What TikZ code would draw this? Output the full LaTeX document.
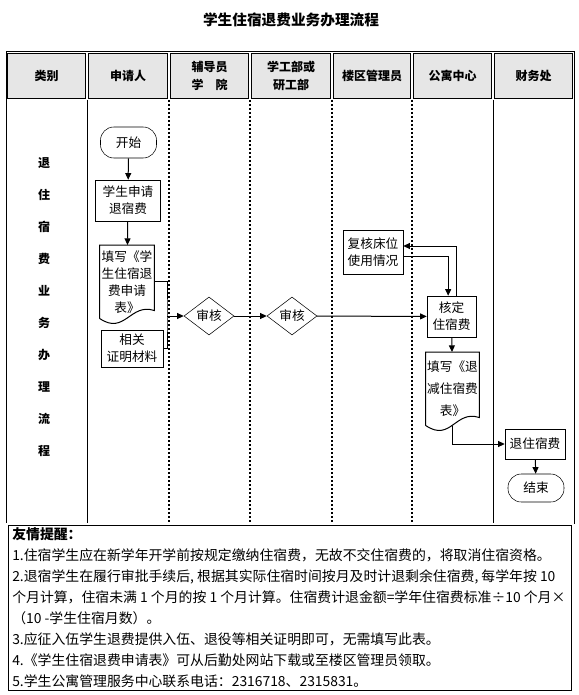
\documentclass[tikz,border=0pt]{standalone}
\usepackage{fontspec}
\setmainfont{Noto Sans CJK SC}
\usetikzlibrary{shapes.geometric,arrows.meta,positioning,calc}
\definecolor{headgray}{RGB}{230,230,230}
% outline of a flowchart document with a wavy bottom edge
\newcommand{\docpath}[1]{%
  \draw[docline] (#1.south west) -- (#1.north west) -- (#1.north east) -- ([yshift=6pt]#1.south east)
    .. controls ([xshift=-18pt,yshift=12pt]#1.south east) and ([xshift=18.75pt,yshift=-12.75pt]#1.south west) .. (#1.south west);}

\begin{document}
\begin{tikzpicture}[
    x=0.75pt, y=-0.75pt,
    font=\fontsize{9.5}{12.75}\selectfont,
    head/.style={rectangle, draw, fill=headgray, minimum width=#1, minimum height=33.75pt,
                 inner sep=0pt, align=center, font=\fontsize{9}{13.5}\selectfont\bfseries},
    lane/.style={line width=1.5pt, dash pattern=on 1.5pt off 1.5pt},
    terminal/.style={rectangle, draw, rounded corners=10pt, inner sep=0pt, align=center},
    proc/.style={rectangle, draw, inner sep=0pt, align=center},
    doc/.style={rectangle, inner sep=0pt, align=center, minimum height=54.75pt},
    docline/.style={line width=0.75pt},
    check/.style={diamond, draw, inner sep=0pt, minimum width=37.5pt, minimum height=28.5pt},
    arrow/.style={-{Triangle[length=5pt,width=4.5pt]}, line width=0.75pt},
    link/.style={line width=0.75pt}
]
\useasboundingbox (0,0) rectangle (578,695);

\node[font=\fontsize{11}{13}\selectfont\bfseries] (title) at (291,20) {学生住宿退费业务办理流程};

% table frame and header
\draw[line width=0.75pt] (6,52) rectangle (574,523);
\node[head=58.5pt]  (hcat)  at (46.5,76)  {类别};
\node[head=59.25pt] (happ)  at (128,76)   {申请人};
\node[head=58.5pt]  (hcoun) at (209.5,76) {辅导员\\学\quad 院};
\node[head=59.25pt] (hstu)  at (291,76)   {学工部或\\研工部};
\node[head=57.75pt] (hbld)  at (372,76)   {楼区管理员};
\node[head=58.5pt]  (hapt)  at (452.5,76) {公寓中心};
\node[head=58.5pt]  (hfin)  at (533.5,76) {财务处};

% lanes
\draw[line width=0.75pt] (87,100) -- (87,523);
\draw[line width=0.75pt] (493,100) -- (493,523);
\foreach \x in {169,250,332,412}
  \draw[lane] (\x,100) -- (\x,523);

\node[align=center, font=\fontsize{9}{24}\selectfont\bfseries] (cat) at (44,307.5)
  {退\\住\\宿\\费\\业\\务\\办\\理\\流\\程};

% flow
\node[terminal, minimum width=42pt, minimum height=23.25pt] (start) at (128.5,142.5) {开始};
\node[proc, minimum width=48.75pt, minimum height=30.75pt] (apply) at (128,200.5) {学生申请\\退宿费};
\node[doc, minimum width=40.5pt, anchor=north] (form) at (127,245) {填写《学\\生住宿退\\费申请\\表》};
\docpath{form}
\node[proc, minimum width=46.5pt, minimum height=27.75pt] (proof) at (132,348.5) {相关\\证明材料};
\coordinate (join) at (167,316);
\node[check] (audit1) at (209,316) {审核};
\node[check] (audit2) at (292,316) {审核};
\node[proc, minimum width=45pt, minimum height=33pt] (recheck) at (373,252) {复核床位\\使用情况};
\node[proc, minimum width=36.75pt, minimum height=30.75pt] (fix) at (451.5,316.5) {核定\\住宿费};
\node[doc, minimum width=39.75pt, anchor=north, font=\fontsize{9.5}{16.5}\selectfont] (cutform) at (452.5,352) {填写《退\\减住宿费\\表》};
\docpath{cutform}
\node[proc, minimum width=45pt, minimum height=22.5pt] (refund) at (535,444) {退住宿费};
\node[terminal, minimum width=42pt, minimum height=21pt] (finish) at (536,488) {结束};

\draw[arrow] (start) -- (apply);
\draw[arrow] (apply) -- (form);
\draw[link] (form.east) -| (join) |- (proof.east);
\draw[arrow] (join) -- (audit1);
\draw[arrow] (audit1) -- (audit2);
\draw[arrow] (audit2) -- (fix);
\draw[arrow] ([xshift=3.5pt]fix.north) |- ([yshift=4.5pt]recheck.east);
\draw[arrow] ([yshift=-3pt]recheck.east) -| ([xshift=-2.5pt]fix.north);
\draw[arrow] (fix) -- (cutform);
\draw[arrow] (cutform.south) |- (refund.west);
\draw[arrow] (refund) -- (finish);

% reminder box
\draw[double, double distance=1.2pt, line width=0.5pt] (7.2,524.2) rectangle (572.8,691.8);
\node[anchor=north west, inner sep=0pt, align=left, font=\fontsize{10.4}{15.75}\selectfont] (tips) at (12,527)
  {\textbf{友情提醒：}\\
   1.住宿学生应在新学年开学前按规定缴纳住宿费，无故不交住宿费的，将取消住宿资格。\\
   2.退宿学生在履行审批手续后, 根据其实际住宿时间按月及时计退剩余住宿费, 每学年按 10\\
   个月计算，住宿未满 1 个月的按 1 个月计算。住宿费计退金额=学年住宿费标准÷10 个月×\\
   （10 -学生住宿月数）。\\
   3.应征入伍学生退费提供入伍、退役等相关证明即可，无需填写此表。\\
   4.《学生住宿退费申请表》可从后勤处网站下载或至楼区管理员领取。\\
   5.学生公寓管理服务中心联系电话：2316718、2315831。};
\end{tikzpicture}
\end{document}
